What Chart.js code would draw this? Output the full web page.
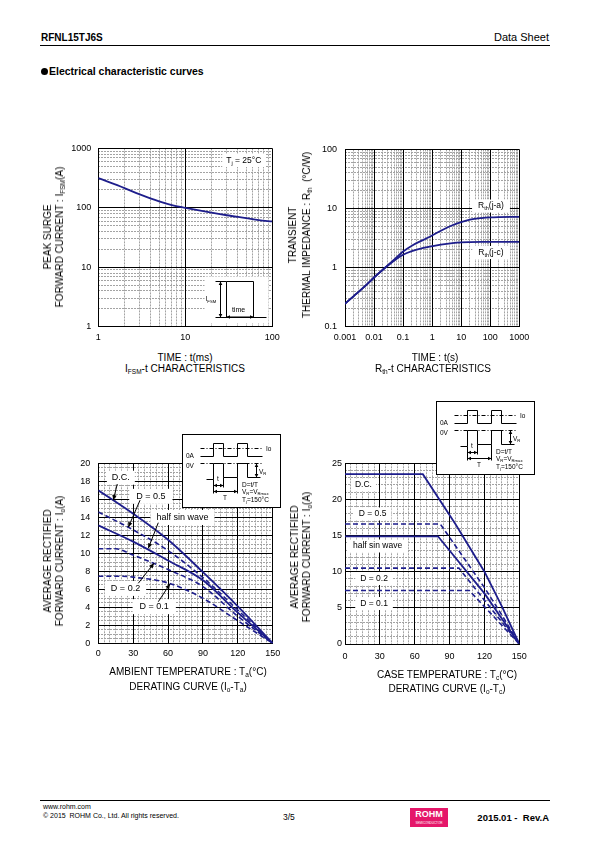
<!DOCTYPE html>
<html>
<head>
<meta charset="utf-8">
<title>RFNL15TJ6S - Electrical characteristic curves</title>
<script src="https://cdn.jsdelivr.net/npm/chart.js@4.4.1/dist/chart.umd.min.js"></script>
<style>
  body { margin: 0; background: #fff; }
  #page { position: relative; width: 595px; height: 842px; overflow: hidden;
          font-family: "Liberation Sans", Arial, sans-serif; color: #000; }
  .t { position: absolute; white-space: nowrap; }
  sub { font-size: 65%; vertical-align: -2px; line-height: 0; }
  .xt { transform: translateX(-50%); font-size: 10px; line-height: 12px; }
  .yt { transform: translate(-50%, -50%) rotate(-90deg); font-size: 10px; line-height: 12px; text-align: center; }
  .plot { position: absolute; }
  .rule { position: absolute; left: 40px; width: 510px; height: 1px; background: #000; }
  .dot { display: inline-block; width: 7px; height: 7px; border-radius: 50%; background: #000; margin-right: 1px; vertical-align: 0; }
</style>
</head>
<body>
<div id="page">
  <div class="t" style="left:41px;top:32px;font-size:10px;font-weight:bold">RFNL15TJ6S</div>
  <div class="t" style="right:46px;top:31px;font-size:11px">Data Sheet</div>
  <div class="rule" style="top:45px"></div>
  <div class="t" style="left:41px;top:65px;font-size:10.5px;font-weight:bold"><span class="dot"></span>Electrical characteristic curves</div>

  <!-- IFSM - t -->
  <div class="plot" style="left:40px;top:136px"><canvas id="c1" width="250" height="215"></canvas></div>
  <div class="t yt" style="left:54px;top:237px">PEAK SURGE<br>FORWARD CURRENT : I<sub>FSM</sub>(A)</div>
  <div class="t xt" style="left:185px;top:352px">TIME : t(ms)</div>
  <div class="t xt" style="left:185px;top:363px">I<sub>FSM</sub>-t CHARACTERISTICS</div>

  <!-- Rth - t -->
  <div class="plot" style="left:287px;top:136px"><canvas id="c2" width="258" height="215"></canvas></div>
  <div class="t yt" style="left:300px;top:235px;line-height:14px">TRANSIENT<br>THERMAL IMPEDANCE : R<sub>th</sub> &nbsp;(°C/W)</div>
  <div class="t xt" style="left:435px;top:352px">TIME : t(s)</div>
  <div class="t xt" style="left:433px;top:363px">R<sub>th</sub>-t CHARACTERISTICS</div>

  <!-- Io - Ta -->
  <div class="plot" style="left:40px;top:425px"><canvas id="c3" width="250" height="245"></canvas></div>
  <div class="t yt" style="left:54px;top:561px">AVERAGE RECTIFIED<br>FORWARD CURRENT : I<sub>o</sub>(A)</div>
  <div class="t xt" style="left:188px;top:666px">AMBIENT TEMPERATURE : T<sub>a</sub>(°C)</div>
  <div class="t xt" style="left:188px;top:681px">DERATING CURVE (I<sub>o</sub>-T<sub>a</sub>)</div>

  <!-- Io - Tc -->
  <div class="plot" style="left:287px;top:398px"><canvas id="c4" width="258" height="272"></canvas></div>
  <div class="t yt" style="left:301px;top:557px">AVERAGE RECTIFIED<br>FORWARD CURRENT : I<sub>o</sub>(A)</div>
  <div class="t xt" style="left:447px;top:669px">CASE TEMPERATURE : T<sub>c</sub>(°C)</div>
  <div class="t xt" style="left:447px;top:683px">DERATING CURVE (I<sub>o</sub>-T<sub>c</sub>)</div>

  <div class="rule" style="top:800px"></div>
  <div class="t" style="left:43px;top:803px;font-size:7px">www.rohm.com</div>
  <div class="t" style="left:43px;top:812px;font-size:7px">© 2015&nbsp; ROHM Co., Ltd. All rights reserved.</div>
  <div class="t" style="left:283px;top:812px;font-size:8.5px">3/5</div>
  <div class="t" style="left:410px;top:808px;width:38px;height:19px;background:#e5176a;color:#fff;text-align:center;font-weight:bold;font-size:9px;line-height:13px">ROHM<div style="font-size:3px;line-height:4px;font-weight:normal">SEMICONDUCTOR</div></div>
  <div class="t" style="right:46px;top:812px;font-size:9.5px;font-weight:bold">2015.01 -&nbsp; Rev.A</div>
</div>

<script>
// ===== DATA =====
// IFSM - t (ms)
const surgeT = [1, 2, 3, 5, 7, 10, 20, 30, 50, 70, 100];
const surgeI = [316, 215, 168, 128, 111, 100, 83, 75, 67, 62, 59];

// Rth - t (s)
const rthT  = [0.001, 0.002, 0.005, 0.01, 0.02, 0.05, 0.1, 0.2, 0.5, 1, 2, 5, 10, 20, 50, 100, 200, 500, 1000];
const rthJA = [0.245, 0.33, 0.49, 0.68, 0.92, 1.37, 1.87, 2.35, 2.95, 3.5, 4.2, 5.2, 5.9, 6.5, 6.9, 7.07, 7.15, 7.2, 7.2];
const rthJC = [0.245, 0.33, 0.49, 0.68, 0.92, 1.32, 1.65, 1.9, 2.15, 2.3, 2.45, 2.6, 2.67, 2.7, 2.72, 2.72, 2.72, 2.72, 2.72];

// Io - Ta
const ambT     = [0, 30, 60, 90, 120, 150];
const ambDC    = [17, 14.4, 11.5, 7.9, 4.1, 0];
const ambD05   = [14.6, 12.6, 10.3, 7.3, 3.7, 0];
const ambHalf  = [13.1, 11.3, 9.2, 7.0, 3.4, 0];
const ambD02T  = [0, 15, 30, 60, 90, 120, 150];
const ambD02   = [10.5, 10.5, 9.8, 8.2, 6.3, 3.0, 0];
const ambD01T  = [0, 20, 30, 60, 90, 120, 150];
const ambD01   = [7.45, 7.45, 7.35, 6.7, 5.0, 2.5, 0];

// Io - Tc
const caseDCT   = [0, 67, 95, 120, 135, 150];
const caseDC    = [23.5, 23.5, 16.6, 10, 5.2, 0];
const caseD05T  = [0, 82, 120, 135, 150];
const caseD05   = [16.6, 16.6, 7.8, 4.0, 0];
const caseHalfT = [0, 80, 120, 150];
const caseHalf  = [14.9, 14.9, 7.0, 0];
const caseD02T  = [0, 98, 150];
const caseD02   = [10.5, 10.5, 0];
const caseD01T  = [0, 107, 150];
const caseD01   = [7.4, 7.4, 0];

// tick labels
const surgeXTicks = [1, 10, 100];
const surgeYTicks = [1, 10, 100, 1000];
const rthXTicks   = [0.001, 0.01, 0.1, 1, 10, 100, 1000];
const rthYTicks   = [0.1, 1, 10, 100];
const tempTicks   = [0, 30, 60, 90, 120, 150];
const ambYTicks   = [0, 2, 4, 6, 8, 10, 12, 14, 16, 18, 20];
const caseYTicks  = [0, 5, 10, 15, 20, 25];

// ===== HELPERS =====
const FONT = '"Liberation Sans", Arial, sans-serif';
const INK = '#1e1e8c';

function pts(xs, ys) { return xs.map((x, i) => ({ x: x, y: ys[i] })); }

// dotted grid between the major lines
function between(major, step) {
    let out = [];
    for (let v = major[0]; v < major[major.length - 1]; v += step) {
        if (!major.includes(v)) out.push(v);
    }
    return out;
}
function logMinor(major) {
    let out = [];
    for (let i = 0; i < major.length - 1; i++) {
        for (let k = 2; k <= 9; k++) out.push(+(major[i] * k).toPrecision(3));
    }
    return out;
}

function axisPair(axis, type, major, minor, size, pad) {
    const horiz = axis === 'x';
    const main = {
        axis: axis, type: type, position: horiz ? 'bottom' : 'left',
        min: major[0], max: major[major.length - 1],
        afterBuildTicks: s => { s.ticks = major.map(v => ({ value: v })); },
        afterFit: s => { if (horiz) s.height = size; else s.width = size; },
        ticks: { color: '#000', font: { family: FONT, size: 9 }, padding: pad,
                 autoSkip: false, maxRotation: 0, minRotation: 0, callback: v => String(v) },
        grid: { color: '#000', lineWidth: 1, drawTicks: false },
        border: { color: '#000', width: 1 }
    };
    const fine = {
        axis: axis, type: type, position: horiz ? 'bottom' : 'left',
        min: major[0], max: major[major.length - 1],
        afterBuildTicks: s => { s.ticks = minor.map(v => ({ value: v })); },
        afterFit: s => { if (horiz) s.height = 0; else s.width = 0; },
        ticks: { display: false },
        grid: { color: '#a3a3a3', lineWidth: 1, drawTicks: false, z: -1 },
        border: { display: false, dash: [2, 1] }
    };
    return [main, fine];
}

function line(data, dashed) {
    return { data: data, borderColor: INK, borderWidth: dashed ? 1.6 : 1.8,
             borderDash: dashed ? [5, 3] : [], pointRadius: 0, fill: false };
}

function parseRich(s) {
    let parts = [], re = /_\{([^}]*)\}/g, last = 0, m;
    while ((m = re.exec(s))) {
        if (m.index > last) parts.push([s.slice(last, m.index), 0]);
        parts.push([m[1], 1]);
        last = re.lastIndex;
    }
    if (last < s.length) parts.push([s.slice(last), 0]);
    return parts;
}
function richWidth(ctx, parts, size) {
    let w = 0;
    parts.forEach(p => { ctx.font = (p[1] ? size * 0.65 : size) + 'px ' + FONT; w += ctx.measureText(p[0]).width; });
    return w;
}
function rich(ctx, s, x, y, size, align) {
    const parts = parseRich(s);
    const w = richWidth(ctx, parts, size);
    let cx = align === 'center' ? x - w / 2 : (align === 'right' ? x - w : x);
    ctx.textAlign = 'left';
    ctx.textBaseline = 'middle';
    ctx.fillStyle = '#000';
    parts.forEach(p => {
        ctx.font = (p[1] ? size * 0.65 : size) + 'px ' + FONT;
        ctx.fillText(p[0], cx, p[1] ? y + size * 0.3 : y);
        cx += ctx.measureText(p[0]).width;
    });
    return w;
}

function head(ctx, x1, y1, x2, y2, len, half) {
    const a = Math.atan2(y2 - y1, x2 - x1);
    ctx.beginPath();
    ctx.moveTo(x2, y2);
    ctx.lineTo(x2 - len * Math.cos(a) + half * Math.sin(a), y2 - len * Math.sin(a) - half * Math.cos(a));
    ctx.lineTo(x2 - len * Math.cos(a) - half * Math.sin(a), y2 - len * Math.sin(a) + half * Math.cos(a));
    ctx.closePath();
    ctx.fill();
}
function seg(ctx, x1, y1, x2, y2) {
    ctx.beginPath(); ctx.moveTo(x1, y1); ctx.lineTo(x2, y2); ctx.stroke();
}
function dbl(ctx, x1, y1, x2, y2) {
    seg(ctx, x1, y1, x2, y2);
    head(ctx, x1, y1, x2, y2, 3.5, 1.8);
    head(ctx, x2, y2, x1, y1, 3.5, 1.8);
}

// surge pulse sketch inside the IFSM chart
function drawPulse(ctx, area) {
    const L = Math.round(area.left) + 0.5, T = Math.round(area.top) + 0.5;
    ctx.fillStyle = '#fff';
    ctx.fillRect(L + 106, T + 128, 64, 47);
    ctx.strokeStyle = '#000'; ctx.fillStyle = '#000'; ctx.lineWidth = 1;
    seg(ctx, L + 117, T + 169, L + 168, T + 169);
    ctx.beginPath();
    ctx.moveTo(L + 128, T + 169); ctx.lineTo(L + 128, T + 133);
    ctx.lineTo(L + 155, T + 133); ctx.lineTo(L + 155, T + 169);
    ctx.stroke();
    seg(ctx, L + 117, T + 133, L + 128, T + 133);
    dbl(ctx, L + 122, T + 133, L + 122, T + 169);
    dbl(ctx, L + 128, T + 168.5, L + 155, T + 168.5);
    rich(ctx, 'I_{FSM}', L + 107, T + 151, 6.5, 'left');
    rich(ctx, 'time', L + 140, T + 162, 7, 'center');
}

// duty waveform box for the derating charts
function drawWave(ctx, bx, by) {
    bx = Math.round(bx); by = Math.round(by);
    const W = 98, H = 73;
    const X = v => bx + v + 0.5, Y = v => by + v + 0.5;
    ctx.fillStyle = '#fff';
    ctx.fillRect(bx, by, W, H);
    ctx.strokeStyle = '#000'; ctx.fillStyle = '#000'; ctx.lineWidth = 1;
    ctx.strokeRect(bx + 0.5, by + 0.5, W, H);
    ctx.setLineDash([4, 2, 1, 2]);
    seg(ctx, X(18), Y(14), X(80), Y(14));
    seg(ctx, X(18), Y(29), X(80), Y(29));
    ctx.setLineDash([]);
    const poly = list => {
        ctx.beginPath();
        list.forEach((p, i) => i ? ctx.lineTo(X(p[0]), Y(p[1])) : ctx.moveTo(X(p[0]), Y(p[1])));
        ctx.stroke();
    };
    poly([[18, 22], [31, 22], [31, 9], [41, 9], [41, 22], [55, 22], [55, 9], [65, 9], [65, 22], [80, 22]]);
    poly([[24, 45], [31, 45], [31, 29], [41, 29], [41, 43], [55, 43], [55, 29], [65, 29], [65, 43], [78, 43]]);
    seg(ctx, X(31), Y(45), X(31), Y(59));
    seg(ctx, X(41), Y(43), X(41), Y(53));
    seg(ctx, X(55), Y(43), X(55), Y(59));
    dbl(ctx, X(31), Y(51), X(41), Y(51));
    dbl(ctx, X(31), Y(57), X(55), Y(57));
    dbl(ctx, X(74), Y(29), X(74), Y(43));
    rich(ctx, '0A', bx + 4, by + 22, 6.5, 'left');
    rich(ctx, 'Io', bx + 84, by + 15, 6.5, 'left');
    rich(ctx, '0V', bx + 4, by + 32, 6.5, 'left');
    rich(ctx, 't', bx + 36, by + 45, 6.5, 'center');
    rich(ctx, 'T', bx + 43, by + 64, 6.5, 'center');
    rich(ctx, 'V_{R}', bx + 77, by + 38, 6.5, 'left');
    rich(ctx, 'D=t/T', bx + 60, by + 51, 6.5, 'left');
    rich(ctx, 'V_{R}=V_{Rmax}', bx + 60, by + 58, 6.5, 'left');
    rich(ctx, 'T_{j}=150°C', bx + 60, by + 66, 6.5, 'left');
}

// ===== ANNOTATIONS =====
const notesById = {
    c1: { labels: [{ x: 47, y: 626, t: 'T_{j} = 25°C', size: 8.5, padX: 4, h: 13 }], arrows: [], inset: 'pulse' },
    c2: { labels: [{ x: 106, y: 11, t: 'R_{th}(j-a)', size: 8.5, padX: 6, h: 13 },
                   { x: 106, y: 1.8, t: 'R_{th}(j-c)', size: 8.5, padX: 6, h: 13 }], arrows: [] },
    c3: { labels: [{ x: 19.4, y: 18.4, t: 'D.C.', size: 9, padX: 5, h: 14 },
                   { x: 45.2, y: 16.33, t: 'D = 0.5', size: 9, padX: 7, h: 15 },
                   { x: 72.4, y: 13.98, t: 'half sin wave', size: 9, padX: 6, h: 15 },
                   { x: 23.4, y: 6.1, t: 'D = 0.2', size: 9, padX: 6, h: 15 },
                   { x: 48.1, y: 4.07, t: 'D = 0.1', size: 9, padX: 7, h: 15 }],
          arrows: [[16.3, 17.7, 12.9, 15.9], [35.9, 15.9, 25.8, 12.9], [51.6, 13.4, 43, 10.55],
                   [34.4, 6.67, 47.9, 8.9], [51.6, 4.62, 61.7, 6.6]],
          inset: 'wave', box: [84, -29.5] },
    c4: { labels: [{ x: 15.9, y: 22.0, t: 'D.C.', size: 8.5, padX: 4, h: 13 },
                   { x: 23.7, y: 17.99, t: 'D = 0.5', size: 8.5, padX: 5, h: 13 },
                   { x: 28, y: 13.56, t: 'half sin wave', size: 8.5, padX: 5, h: 13 },
                   { x: 25, y: 9.06, t: 'D = 0.2', size: 8.5, padX: 5, h: 13 },
                   { x: 25, y: 5.6, t: 'D = 0.1', size: 8.5, padX: 5, h: 13 }],
          arrows: [], inset: 'wave', box: [91, -62.3] }
};

const notes = {
    id: 'notes',
    beforeDatasetsDraw(chart) {
        const n = notesById[chart.canvas.id];
        if (!n) return;
        const ctx = chart.ctx, sx = chart.scales.x, sy = chart.scales.y;
        ctx.save();
        n.labels.forEach(l => {
            const x = sx.getPixelForValue(l.x), y = sy.getPixelForValue(l.y);
            const w = richWidth(ctx, parseRich(l.t), l.size);
            ctx.fillStyle = '#fff';
            ctx.fillRect(x - w / 2 - l.padX, y - l.h / 2, w + 2 * l.padX, l.h);
            rich(ctx, l.t, x, y, l.size, 'center');
        });
        ctx.restore();
    },
    afterDatasetsDraw(chart) {
        const n = notesById[chart.canvas.id];
        if (!n) return;
        const ctx = chart.ctx, sx = chart.scales.x, sy = chart.scales.y;
        ctx.save();
        ctx.strokeStyle = '#000'; ctx.fillStyle = '#000'; ctx.lineWidth = 1;
        n.arrows.forEach(a => {
            const x1 = sx.getPixelForValue(a[0]), y1 = sy.getPixelForValue(a[1]);
            const x2 = sx.getPixelForValue(a[2]), y2 = sy.getPixelForValue(a[3]);
            seg(ctx, x1, y1, x2, y2);
            head(ctx, x1, y1, x2, y2, 5, 2.2);
        });
        ctx.restore();
    },
    afterDraw(chart) {
        const n = notesById[chart.canvas.id];
        if (!n) return;
        const ctx = chart.ctx, area = chart.chartArea;
        ctx.save();
        if (n.inset === 'pulse') drawPulse(ctx, area);
        if (n.inset === 'wave') drawWave(ctx, area.left + n.box[0], area.top + n.box[1]);
        ctx.restore();
    }
};

function makeChart(id, datasets, xPair, yPair, pad) {
    new Chart(document.getElementById(id), {
        type: 'line',
        data: { datasets: datasets },
        options: {
            responsive: false,
            animation: false,
            events: [],
            layout: { padding: pad },
            plugins: { legend: { display: false }, tooltip: { enabled: false } },
            scales: { xm: xPair[1], ym: yPair[1], x: xPair[0], y: yPair[0] }
        },
        plugins: [notes]
    });
}

// ===== IFSM - t =====
makeChart('c1',
    [Object.assign(line(pts(surgeT, surgeI)), { cubicInterpolationMode: 'monotone' })],
    axisPair('x', 'logarithmic', surgeXTicks, logMinor(surgeXTicks), 24.3, 5),
    axisPair('y', 'logarithmic', surgeYTicks, logMinor(surgeYTicks), 58.3, 7),
    { top: 10, right: 17.7, left: 0, bottom: 0 });

// ===== Rth - t =====
makeChart('c2',
    [Object.assign(line(pts(rthT, rthJA)), { cubicInterpolationMode: 'monotone' }),
     Object.assign(line(pts(rthT, rthJC)), { cubicInterpolationMode: 'monotone' })],
    axisPair('x', 'logarithmic', rthXTicks, logMinor(rthXTicks), 24.3, 5),
    axisPair('y', 'logarithmic', rthYTicks, logMinor(rthYTicks), 58, 8),
    { top: 10, right: 25.7, left: 0, bottom: 0 });

// ===== Io - Ta =====
makeChart('c3',
    [Object.assign(line(pts(ambT, ambDC)), { cubicInterpolationMode: 'monotone' }),
     Object.assign(line(pts(ambT, ambD05), true), { cubicInterpolationMode: 'monotone' }),
     Object.assign(line(pts(ambT, ambHalf)), { cubicInterpolationMode: 'monotone' }),
     Object.assign(line(pts(ambD02T, ambD02), true), { cubicInterpolationMode: 'monotone' }),
     Object.assign(line(pts(ambD01T, ambD01), true), { cubicInterpolationMode: 'monotone' })],
    axisPair('x', 'linear', tempTicks, between(tempTicks, 5), 26.7, 5),
    axisPair('y', 'linear', ambYTicks, between(ambYTicks, 0.5), 58.3, 8),
    { top: 38.3, right: 17.3, left: 0, bottom: 0 });

// ===== Io - Tc =====
makeChart('c4',
    [line(pts(caseDCT, caseDC)),
     line(pts(caseD05T, caseD05), true),
     line(pts(caseHalfT, caseHalf)),
     line(pts(caseD02T, caseD02), true),
     line(pts(caseD01T, caseD01), true)],
    axisPair('x', 'linear', tempTicks, between(tempTicks, 5), 26, 7),
    axisPair('y', 'linear', caseYTicks, between(caseYTicks, 1), 58, 3),
    { top: 65.3, right: 25.7, left: 0, bottom: 0 });
</script>
</body>
</html>
